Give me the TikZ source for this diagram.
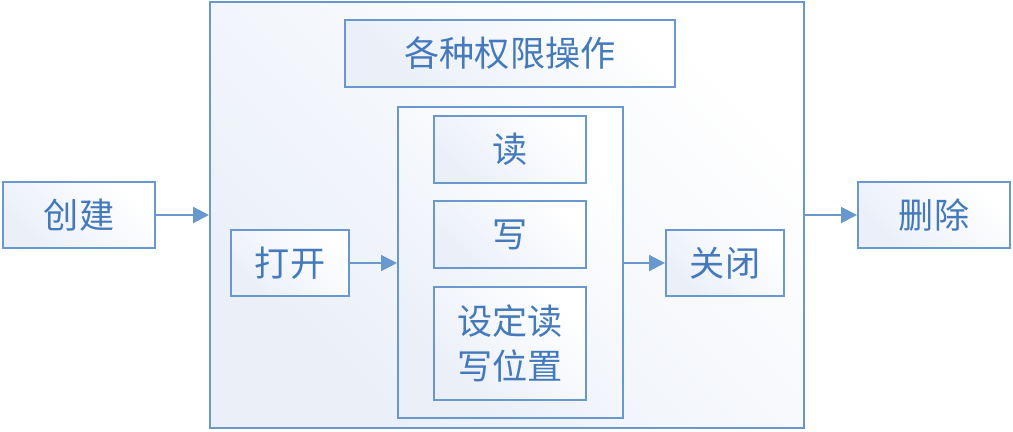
\documentclass[tikz,border=0pt]{standalone}
\usepackage{fontspec}
\setmainfont{Noto Sans CJK SC}
\usetikzlibrary{arrows.meta}
\definecolor{boxline}{RGB}{104,152,205}
\definecolor{boxtext}{RGB}{68,122,188}
\definecolor{boxshade}{RGB}{234,239,248}
\tikzset{
  box/.style={draw=boxline, line width=1.2pt, text=boxtext,
    left color=boxshade, right color=white, shading angle=135,
    inner sep=0pt, font=\fontsize{20}{26}\selectfont, align=center},
  flow/.style={draw=boxline, line width=1.2pt, -{Triangle[length=9pt,width=9pt]}}
}

\begin{document}
\begin{tikzpicture}[x=0.02cm, y=-0.02cm]
\useasboundingbox (0,0) rectangle (1013,432);
% Frames
    \node[box, minimum width=11.88cm, minimum height=8.52cm] (outer) at (507,215) {};
    \node[box, minimum width=6.6cm, minimum height=1.34cm] (perm) at (510,53.5) {各种权限操作};
    \node[box, minimum width=4.5cm, minimum height=6.22cm] (inner) at (510.5,262.5) {};
% Boxes
    \node[box, minimum width=3.04cm, minimum height=1.32cm] (create) at (79,215) {创建};
    \node[box, minimum width=2.36cm, minimum height=1.32cm] (open) at (290,263) {打开};
    \node[box, minimum width=3.04cm, minimum height=1.34cm] (read) at (510,149.5) {读};
    \node[box, minimum width=3.04cm, minimum height=1.34cm] (write) at (510,234.5) {写};
    \node[box, minimum width=3.04cm, minimum height=2.26cm] (seek) at (510,343.5) {设定读\\写位置};
    \node[box, minimum width=2.36cm, minimum height=1.32cm] (close) at (725,263) {关闭};
    \node[box, minimum width=3.04cm, minimum height=1.32cm] (delete) at (934,215) {删除};
% Arrows
    \draw[flow] (create.east) -- (create.east -| outer.west);
    \draw[flow] (open.east) -- (open.east -| inner.west);
    \draw[flow] (close.west -| inner.east) -- (close.west);
    \draw[flow] (delete.west -| outer.east) -- (delete.west);
\end{tikzpicture}
\end{document}
